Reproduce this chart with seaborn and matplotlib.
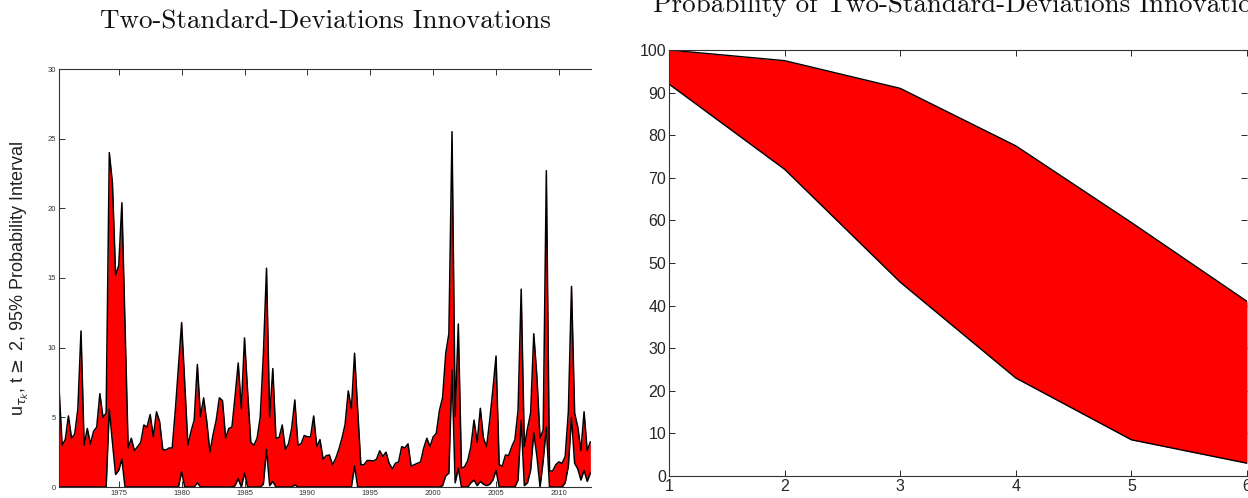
import numpy as np
import pandas as pd
import matplotlib
matplotlib.use('Agg')
import matplotlib.pyplot as plt
import seaborn as sns

# quarterly series, 1970Q2 .. 2012Q3 (upper / lower bound of the 95% interval)
upper = [7.15, 3.0, 3.4, 5.1, 3.5, 3.8, 5.6, 11.2, 3.0, 4.2,
         3.1, 4.0, 4.3, 6.7, 5.0, 5.3, 24.0, 21.8, 15.2, 15.9,
         20.4, 11.5, 2.8, 3.5, 2.6, 2.9, 3.2, 4.45, 4.3, 5.2,
         3.6, 5.4, 4.7, 2.7, 2.65, 2.8, 2.8, 5.5, 8.7, 11.8,
         7.4, 3.0, 4.0, 4.8, 8.8, 5.05, 6.4, 4.7, 2.5, 3.75,
         4.8, 6.4, 6.2, 3.5, 4.2, 4.3, 6.5, 8.9, 5.6, 10.7,
         6.8, 3.2, 3.0, 3.5, 5.0, 9.5, 15.7, 5.0, 8.5, 3.5,
         3.55, 4.45, 2.7, 3.1, 4.2, 6.25, 3.0, 3.1, 3.7, 3.6,
         3.6, 5.1, 2.9, 3.4, 2.0, 2.25, 2.3, 1.6, 2.05, 2.7,
         3.5, 4.5, 6.9, 5.6, 9.6, 5.5, 1.6, 1.6, 1.9, 1.9,
         1.86, 2.0, 2.6, 2.2, 2.5, 1.7, 1.3, 1.7, 1.8, 2.9,
         2.8, 3.1, 1.5, 1.6, 1.7, 1.8, 2.8, 3.5, 2.9, 3.6,
         3.85, 5.5, 6.4, 9.6, 11.0, 25.5, 5.05, 11.7, 1.35, 1.45,
         1.9, 2.9, 4.8, 3.2, 5.65, 3.5, 2.9, 4.8, 7.0, 9.4,
         1.6, 1.5, 2.3, 2.25, 2.9, 3.4, 5.5, 14.2, 2.9, 4.2,
         5.3, 11.0, 7.9, 3.5, 4.1, 22.7, 1.15, 1.15, 1.6, 1.8,
         1.7, 2.2, 5.4, 14.4, 5.3, 4.3, 2.6, 5.4, 2.6, 3.25]

lower = [0, 0, 0, 0, 0, 0, 0, 0, 0, 0,
         0, 0, 0, 0, 0, 0, 5.6, 3.2, 0.9, 1.2,
         2.0, 0, 0, 0, 0, 0, 0, 0, 0, 0,
         0, 0, 0, 0, 0, 0, 0, 0, 0, 1.1,
         0, 0, 0, 0, 0.3, 0, 0, 0, 0, 0,
         0, 0, 0, 0, 0, 0, 0.1, 0.6, 0, 1.0,
         0, 0, 0, 0, 0, 0.2, 2.7, 0.1, 0.4, 0,
         0, 0, 0, 0, 0, 0.15, 0, 0, 0, 0,
         0, 0, 0, 0, 0, 0, 0, 0, 0, 0,
         0, 0, 0, 0, 1.5, 0, 0, 0, 0, 0,
         0, 0, 0, 0, 0, 0, 0, 0, 0, 0,
         0, 0, 0, 0, 0, 0, 0, 0, 0, 0,
         0, 0, 0.1, 0.8, 1.0, 8.4, 0.3, 1.35, 0, 0,
         0, 0.3, 0.5, 0.1, 0.4, 0.2, 0.1, 0.2, 0.5, 1.2,
         0, 0, 0, 0, 0, 0, 0.5, 4.8, 0.1, 0.3,
         1.2, 3.9, 2.2, 0, 1.9, 4.3, 0, 0, 0, 0,
         0, 0.3, 1.5, 5.0, 1.7, 1.3, 0.5, 1.2, 0.4, 1.0]

# probability of two-standard-deviation innovations, by horizon
horizon = [1, 2, 3, 4, 5, 6]
prob_upper = [100, 97.5, 91, 77.5, 59.5, 41]
prob_lower = [92, 72, 45.5, 23, 8.5, 3]

year_ticks = [1975, 1980, 1985, 1990, 1995, 2000, 2005, 2010]

q = pd.period_range('1970Q2', periods=len(upper), freq='Q')
df = pd.DataFrame({'date': q.year + (q.quarter - 1) / 4.0,
                   'upper': upper, 'lower': lower})
df2 = pd.DataFrame({'h': horizon, 'upper': prob_upper, 'lower': prob_lower})

sns.set_style('ticks')
plt.rcParams['font.family'] = ['Liberation Sans', 'DejaVu Sans']
plt.rcParams['mathtext.fontset'] = 'dejavusans'

fig = plt.figure(figsize=(12.48, 4.98), dpi=100)
ax1 = fig.add_axes([59 / 1248, 11 / 498, 532 / 1248, 418 / 498])
ax2 = fig.add_axes([669 / 1248, 22 / 498, 578 / 1248, 426 / 498])

axis_col = '#333333'

# left panel
ax1.fill_between(df['date'], df['lower'], df['upper'], color='#ff0000', lw=0)
sns.lineplot(data=df, x='date', y='upper', ax=ax1, color='black', lw=1.1)
sns.lineplot(data=df, x='date', y='lower', ax=ax1, color='black', lw=1.1)
ax1.set_xlim(1970.25, 2012.55)
ax1.set_ylim(0, 30)
ax1.set_xticks(year_ticks)
ax1.set_yticks(range(0, 31, 5))
ax1.tick_params(direction='in', top=True, right=False, length=4, width=0.7,
                labelsize=5.5, colors=axis_col, pad=2)
ax1.spines['right'].set_visible(False)
for s in ['left', 'top', 'bottom']:
    ax1.spines[s].set_color(axis_col)
    ax1.spines[s].set_linewidth(0.8)
ax1.set_xlabel('')
ax1.set_ylabel(r'u$_{\tau_k}$, t$\geq$ 2, 95% Probability Interval',
               fontsize=13, color='#222222')
ax1.yaxis.set_label_coords(-0.052, 0.5)
ax1.set_title('Two-Standard-Deviations Innovations', family='cmr10',
              fontsize=19.5, pad=29.5, color='#111111')

# right panel
ax2.fill_between(df2['h'], df2['lower'], df2['upper'], color='#ff0000', lw=0)
sns.lineplot(data=df2, x='h', y='upper', ax=ax2, color='black', lw=1.0)
sns.lineplot(data=df2, x='h', y='lower', ax=ax2, color='black', lw=1.0)
ax2.set_xlim(1, 6)
ax2.set_ylim(0, 100)
ax2.set_xticks(horizon)
ax2.set_yticks(range(0, 101, 10))
ax2.tick_params(direction='in', top=True, right=True, length=4, width=0.7,
                labelsize=11.5, colors='#262626', pad=2)
ax2.spines['right'].set_visible(False)
for s in ['left', 'top', 'bottom']:
    ax2.spines[s].set_color(axis_col)
    ax2.spines[s].set_linewidth(0.8)
ax2.set_xlabel('')
ax2.set_ylabel('')

# title of the right panel, its upper part cut off by the top edge
fig.text(965 / 1248, 1 - 12 / 498,
         'Probability of Two-Standard-Deviations Innovations',
         family='cmr10', fontsize=19.5, ha='center', va='baseline', color='#111111')

fig.savefig('out.png', dpi=100)
